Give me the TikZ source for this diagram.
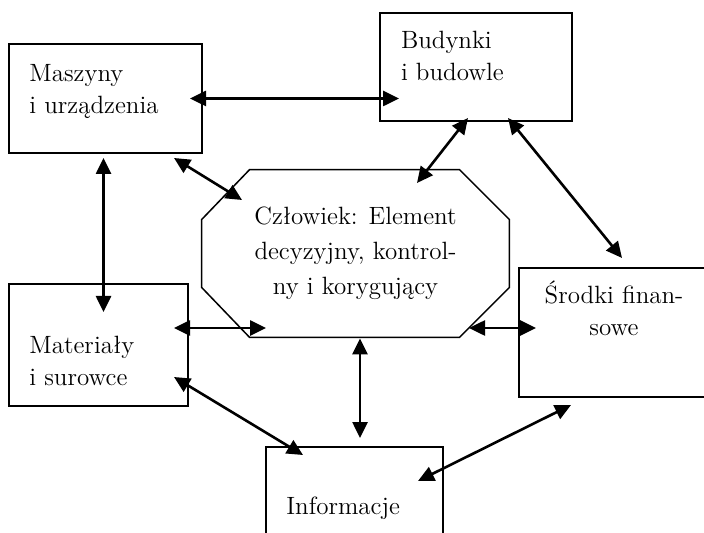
\documentclass[tikz,border=0pt]{standalone}
\usepackage{tikz}
\usetikzlibrary{positioning,arrows.meta,calc}

\begin{document}
\begin{tikzpicture}[
  x=0.5pt, y=-0.5pt,
  font=\fontsize{12.5}{16}\selectfont,
  box/.style={draw, line width=1pt, inner sep=0pt},
  txt/.style={align=left, inner sep=0pt},
  oct/.style={align=center, inner sep=0pt, font=\fontsize{12.5}{17.5}\selectfont},
  strzalka/.style={{Triangle[length=8pt,width=7.5pt]}-{Triangle[length=8pt,width=7.5pt]},
                   line width=1.3pt}]

\useasboundingbox (0,0) rectangle (704,533);
\clip (0,0) rectangle (704,533);

% ramki
\node[box, minimum width=96.5pt, minimum height=54.5pt] (masz) at (105.5,98.5) {};
\node[box, minimum width=96pt, minimum height=54pt] (bud) at (476,67) {};
\node[box, minimum width=89.5pt, minimum height=61pt] (mat) at (98.5,345) {};
\node[box, minimum width=95pt, minimum height=64.5pt] (srod) at (614,332.5) {};
\node[box, minimum width=88.5pt, minimum height=49pt] (info) at (354.5,496) {};
\node[oct, minimum width=153.5pt, minimum height=83.5pt] (czl) at (355.5,253.5)
  {Człowiek: Element\\decyzyjny, kontrol-\\ny i korygujący};
% osmiokat
\draw[line width=0.75pt] ($(czl.north west)+(48,0)$) -- ($(czl.north east)+(-50,0)$)
  -- ($(czl.north east)+(0,50)$) -- ($(czl.south east)+(0,-50)$)
  -- ($(czl.south east)+(-50,0)$) -- ($(czl.south west)+(48,0)$)
  -- ($(czl.south west)+(0,-50)$) -- ($(czl.north west)+(0,50)$) -- cycle;

% opisy
\node[txt, below right=10.5pt and 10.5pt of masz.north west] (masz-t) {Maszyny\\i urządzenia};
\node[txt, below right=9.3pt and 10.8pt of bud.north west] (bud-t) {Budynki\\i budowle};
\node[txt, below right=26.5pt and 10.5pt of mat.north west] (mat-t) {Materiały\\i surowce};
\node[txt, align=center, below=6.5pt of srod.north] (srod-t) {Środki finan-\\sowe};
\node[txt, below right=25.2pt and 10.5pt of info.north west] (info-t) {Informacje};

% powiazania
\draw[strzalka] ($(masz.east)+(-13,0)$) -- ($(masz.east -| bud.west)+(20,0)$);
\draw[strzalka] ($(masz.south)+(-2,4)$) -- ($(mat.north)+(5,29)$);
\draw[strzalka] ($(masz.south east)+(-29,4)$) -- ($(czl.center)+(-113.5,-53.5)$);
\draw[strzalka] ($(bud.south)+(-8,-4)$) -- ($(czl.center)+(61.5,-70.5)$);
\draw[strzalka] ($(bud.south)+(32,-4)$) -- ($(srod.north)+(8,-9)$);
\draw[strzalka] ($(mat.east)+(-15,-17)$) -- ($(czl.center)+(-89.5,74.5)$);
\draw[strzalka] ($(czl.center)+(113.5,74.5)$) -- ($(srod.west)+(18,-4.5)$);
\draw[strzalka] ($(czl.south)+(4.5,1)$) -- ($(info.north)+(5.5,-8)$);
\draw[strzalka] ($(mat.south east)+(-15,-30)$) -- ($(info.north west)+(38,9)$);
\draw[strzalka] ($(srod.south west)+(53,7)$) -- ($(info.north east)+(-26,35)$);
\end{tikzpicture}
\end{document}
